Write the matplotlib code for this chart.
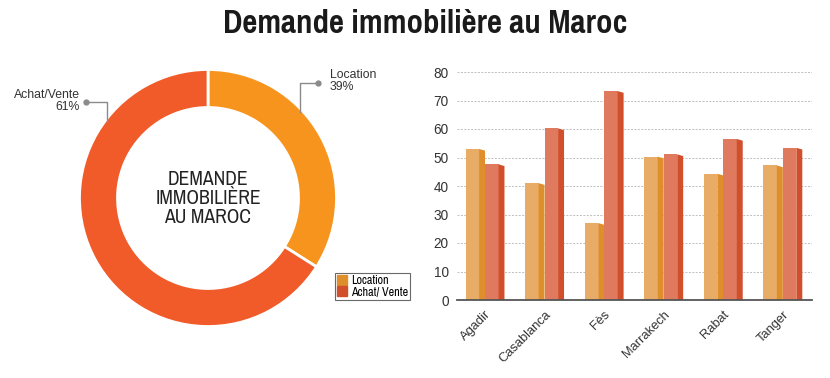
import matplotlib.pyplot as plt
from matplotlib import font_manager as fm
from matplotlib.patches import Patch

# donut data (wedge shares as drawn, labels as printed)
seg_names = ['Location', 'Achat/Vente']
seg_shares = [34, 66]
seg_labels = ['39%', '61%']

# bar chart data
cities = ['Agadir', 'Casablanca', 'Fès', 'Marrakech', 'Rabat', 'Tanger']
location = [53.0, 41.0, 27.0, 50.3, 44.3, 47.2]
achat_vente = [47.6, 60.2, 73.3, 51.1, 56.5, 53.4]
y_ticks = [0, 10, 20, 30, 40, 50, 60, 70, 80]

c_loc_donut = '#F7941E'
c_av_donut = '#F15A29'
c_loc_face, c_loc_side = '#E8AC66', '#DF8E2C'
c_av_face, c_av_side = '#E07A5F', '#D24F2B'


def pick_font(cands, bold=False):
    have = {}
    for f in fm.fontManager.ttflist:
        w = f.weight if isinstance(f.weight, int) else (700 if 'bold' in str(f.weight) else 400)
        have.setdefault(f.name, set()).add(w)
    for c in cands:
        if c in have and (not bold or max(have[c]) >= 700):
            return c
    return 'DejaVu Sans'


narrow_cands = ['Liberation Sans Narrow', 'Arial Narrow', 'Pragati Narrow', 'PT Sans Narrow',
                'Roboto Condensed', 'Archivo Narrow', 'IBM Plex Sans Condensed',
                'Fira Sans Condensed', 'Open Sans Condensed']
narrow = [pick_font(narrow_cands), 'DejaVu Sans']
narrow_b = [pick_font(narrow_cands, bold=True), 'DejaVu Sans']
plt.rcParams['font.family'] = ['Liberation Sans', 'DejaVu Sans']

fig = plt.figure(figsize=(8.3, 3.78), dpi=100)
W, H = 830, 378
renderer = fig.canvas.get_renderer()


def fit_width(t, target_px):
    w = t.get_window_extent(renderer).width
    t.set_fontsize(t.get_fontsize() * target_px / w)


title = fig.text(425 / W, 1 - 33 / H, 'Demande immobilière au Maroc', ha='center', va='baseline',
                 fontsize=20, fontweight='bold', family=narrow_b, color='#1a1a1a')
fit_width(title, 404)

# --- donut ---
cx, cy, half = 208, 198, 130
ax1 = fig.add_axes([(cx - half) / W, (H - cy - half) / H, 2 * half / W, 2 * half / H])
ax1.pie(seg_shares, colors=[c_loc_donut, c_av_donut], startangle=90, counterclock=False,
        radius=128.5 / half, wedgeprops=dict(width=38 / half, edgecolor='white', linewidth=2))
ax1.set_xlim(-1, 1)
ax1.set_ylim(-1, 1)
ax1.set_aspect('equal')
ax1.axis('off')
probe = ax1.text(0, 0, 'IMMOBILIÈRE', fontsize=12, family=narrow)
w_probe = probe.get_window_extent(renderer).width
probe.remove()
ax1.text(0, 0, 'DEMANDE\nIMMOBILIÈRE\nAU MAROC', ha='center', va='center',
         fontsize=12 * 106 / w_probe, family=narrow, color='#222222', linespacing=1.0)


def px(x, y):
    return (x - cx) / half, (cy - y) / half


lead_col = '#8a8a8a'
# Location leader
pts = [px(318, 83), px(300, 83), px(300, 112)]
ax1.plot([p[0] for p in pts], [p[1] for p in pts], color=lead_col, lw=1, clip_on=False)
ax1.plot(*pts[0], 'o', color=lead_col, ms=3.5, clip_on=False)
tx, ty = px(330, 81)
ax1.text(tx, ty, f'{seg_names[0]}\n{seg_labels[0]}', ha='left', va='center', fontsize=8.8,
         color='#333333', linespacing=0.95, clip_on=False)
# Achat/Vente leader
pts = [px(86, 102), px(107, 102), px(107, 122)]
ax1.plot([p[0] for p in pts], [p[1] for p in pts], color=lead_col, lw=1, clip_on=False)
ax1.plot(*pts[0], 'o', color=lead_col, ms=3.5, clip_on=False)
tx, ty = px(80, 101)
ax1.text(tx, ty, f'{seg_names[1]}\n{seg_labels[1]}', ha='right', va='center', fontsize=8.8,
         color='#333333', linespacing=0.95, multialignment='right', clip_on=False)

leg = fig.legend(handles=[Patch(color=c_loc_side, label='Location'),
                          Patch(color=c_av_side, label='Achat/ Vente')],
                 loc='upper left', bbox_to_anchor=(335 / W, 1 - 273 / H), frameon=True,
                 fancybox=False, edgecolor='#444444', prop={'family': narrow, 'size': 9.5},
                 handlelength=0.75, handleheight=0.75, handletextpad=0.3, borderpad=0.15,
                 labelspacing=0.0, borderaxespad=0)
leg.get_frame().set_linewidth(0.8)

# --- bars ---
ax2 = fig.add_axes([457 / W, (H - 300) / H, 355 / W, 228 / H])
face_w, side_w = 0.227, 0.1
drop = 0.6
xs = range(len(cities))
for i in xs:
    for x0, v, cf, cs in [(i - face_w - side_w, location[i], c_loc_face, c_loc_side),
                          (i, achat_vente[i], c_av_face, c_av_side)]:
        ax2.bar(x0, v, width=face_w, align='edge', color=cf, zorder=3)
        x1 = x0 + face_w
        ax2.fill([x1, x1, x1 + side_w, x1 + side_w], [0, v, v - drop, 0], color=cs, zorder=3,
                 lw=0)

ax2.set_xlim(-0.47, 5.49)
ax2.set_ylim(0, 80)
ax2.set_yticks(y_ticks)
ax2.set_xticks(list(xs))
ax2.set_xticklabels(cities, rotation=45, ha='right', rotation_mode='anchor', fontsize=9.3,
                    color='#333333')
ax2.tick_params(axis='y', length=0, labelsize=9.8, labelcolor='#333333', pad=6)
ax2.tick_params(axis='x', length=0, pad=6)
ax2.grid(axis='y', linestyle=(0, (2, 1.5)), color='#bdbdbd', lw=0.7, zorder=0)
for s in ['top', 'right', 'left']:
    ax2.spines[s].set_visible(False)
ax2.spines['bottom'].set_color('#555555')
ax2.spines['bottom'].set_linewidth(1.3)
ax2.spines['bottom'].set_zorder(4)

fig.savefig('out.png', dpi=100)
